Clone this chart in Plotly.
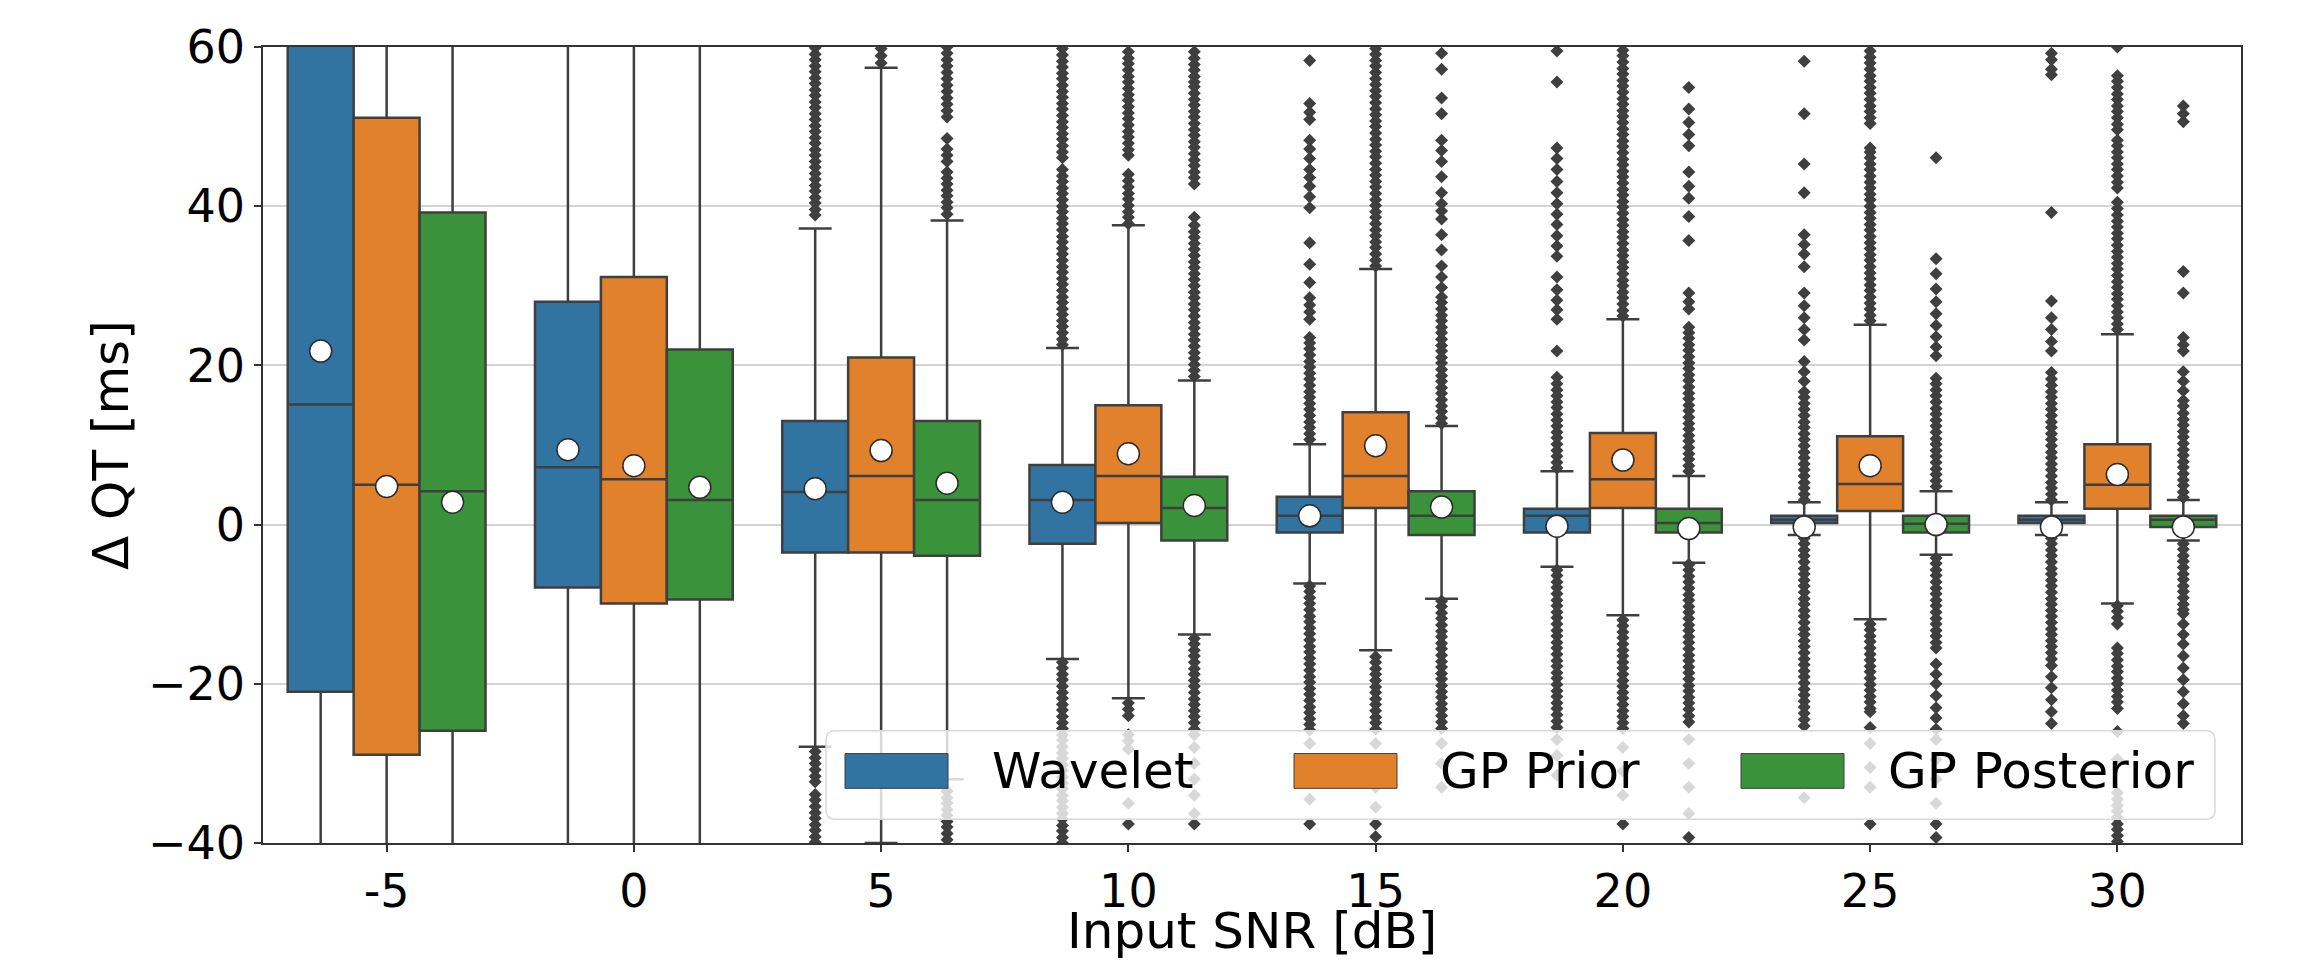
import plotly.graph_objects as go

# ---------------- data ----------------
snr_labels = ["-5", "0", "5", "10", "15", "20", "25", "30"]
methods = ["Wavelet", "GP Prior", "GP Posterior"]
colors = ["#3274A1", "#E1812C", "#3A923A"]

# quartiles / whiskers / means (ms)
wavelet_q1 = [-21.0, -7.9, -3.5, -2.4, -1.0, -1.0, 0.2, 0.2]
wavelet_med = [15.1, 7.2, 4.1, 3.1, 1.1, 1.1, 0.6, 0.6]
wavelet_q3 = [68.0, 28.0, 13.0, 7.5, 3.5, 2.0, 1.1, 1.1]
wavelet_lo = [-95.0, -62.0, -27.9, -16.9, -7.4, -5.3, -1.3, -1.3]
wavelet_hi = [150.0, 82.0, 37.2, 22.2, 10.1, 6.7, 2.8, 2.8]
wavelet_mean = [21.8, 9.4, 4.5, 2.8, 1.1, -0.2, -0.3, -0.3]

prior_q1 = [-28.9, -9.9, -3.5, 0.2, 2.1, 2.1, 1.7, 2.0]
prior_med = [5.0, 5.7, 6.1, 6.1, 6.1, 5.7, 5.1, 5.0]
prior_q3 = [51.1, 31.1, 21.0, 15.0, 14.1, 11.5, 11.1, 10.1]
prior_lo = [-80.0, -72.0, -40.0, -21.8, -15.8, -11.4, -11.9, -9.9]
prior_hi = [120.0, 92.0, 57.4, 37.6, 32.1, 25.8, 25.1, 23.9]
prior_mean = [4.8, 7.4, 9.3, 8.9, 9.9, 8.1, 7.4, 6.3]

post_q1 = [-25.9, -9.4, -3.9, -2.0, -1.3, -1.0, -1.0, -0.3]
post_med = [4.2, 3.1, 3.1, 2.1, 1.1, 0.2, 0.1, 0.6]
post_q3 = [39.2, 22.0, 13.0, 6.0, 4.2, 2.0, 1.1, 1.1]
post_lo = [-75.0, -55.0, -32.0, -13.8, -9.3, -4.8, -3.8, -2.0]
post_hi = [110.0, 68.0, 38.2, 18.1, 12.4, 6.1, 4.2, 3.1]
post_mean = [2.8, 4.7, 5.2, 2.4, 2.2, -0.5, 0.0, -0.3]

# outliers, one list per SNR
wavelet_out = [
    [],
    [],
    [38.9, 39.6, 40.4, 41.1, 41.9, 42.6, 43.4, 44.1, 44.9, 45.6, 46.4, 47.1, 47.9, 48.6, 49.4,
     50.1, 50.9, 51.6, 52.4, 53.1, 53.9, 54.6, 55.4, 56.1, 56.9, 57.6, 58.4, 59.1, 59.9,
     -28.5, -29.3, -30.0, -30.8, -31.6, -32.3, -33.9, -34.6, -35.4, -36.2, -36.9, -37.7,
     -38.4, -39.2, -39.9],
    [22.6, 23.3, 24.1, 24.9, 25.6, 26.4, 27.1, 27.9, 28.6, 29.4, 30.2, 30.9, 31.7, 32.4, 33.2,
     34.0, 34.7, 35.5, 36.2, 37.0, 37.8, 38.5, 39.3, 40.0, 40.8, 41.6, 42.3, 43.1, 43.8, 44.6,
     46.1, 46.8, 47.6, 48.4, 49.1, 49.9, 50.6, 51.4, 52.2, 52.9, 53.7, 54.4, 55.2, 56.0,
     56.7, 57.5, 58.2, 59.0, 59.8,
     -17.3, -18.0, -18.8, -19.5, -20.3, -21.1, -21.8, -22.6, -23.3, -24.1, -24.9, -25.6,
     -26.4, -27.1, -27.9, -28.7, -29.4, -30.2, -30.9, -31.7, -32.5, -33.2, -34.0, -34.7,
     -35.5, -36.3, -37.0, -37.8, -38.5, -39.3, -40.0],
    [10.7, 11.4, 12.2, 12.9, 13.7, 14.5, 15.2, 16.0, 16.7, 17.5, 18.3, 19.0, 19.8, 20.5,
     21.3, 22.1, 22.8, 23.5, 25.8, 26.7, 27.6, 28.5, 30.4, 32.7, 35.4, 39.8, 41.2, 42.5,
     43.6, 44.6, 46.0, 47.2, 48.3, 50.9, 51.8, 52.9, 58.3,
     -7.7, -8.4, -9.2, -9.9, -10.7, -11.5, -12.2, -13.0, -13.7, -14.5, -15.3, -16.0, -16.8,
     -17.5, -18.3, -19.1, -19.8, -20.6, -21.3, -22.1, -22.9, -23.6, -24.4, -25.1, -25.8,
     -27.5, -29.6, -31.8, -34.5, -37.6],
    [7.1, 7.8, 8.6, 9.3, 10.1, 10.9, 11.6, 12.4, 13.1, 13.9, 14.7, 15.4, 16.2, 16.9, 17.7,
     18.5, 21.8, 25.8, 27.0, 28.2, 29.5, 31.1, 33.7, 35.0, 36.3, 37.7, 39.0, 40.3, 41.7,
     43.1, 44.6, 46.0, 47.3, 55.6, 59.5,
     -5.7, -6.4, -7.2, -7.9, -8.7, -9.5, -10.2, -11.0, -11.7, -12.5, -13.3, -14.0, -14.8,
     -15.5, -16.3, -17.1, -17.8, -18.6, -19.3, -20.1, -20.9, -21.6, -22.4, -23.1, -23.9,
     -24.7, -25.5, -27.0, -29.0, -31.5],
    [3.1, 3.8, 4.6, 5.3, 6.1, 6.9, 7.6, 8.4, 9.1, 9.9, 10.7, 11.4, 12.2, 12.9, 13.7, 14.5,
     15.2, 16.0, 16.7, 18.0, 19.2, 20.5, 23.2, 24.5, 26.0, 27.5, 29.1, 32.4, 34.0, 35.2,
     36.4, 41.7, 45.3, 51.6, 58.2,
     -1.7, -2.4, -3.2, -3.9, -4.7, -5.5, -6.2, -7.0, -7.7, -8.5, -9.3, -10.0, -10.8, -11.5,
     -12.3, -13.1, -13.8, -14.6, -15.3, -16.1, -16.9, -17.6, -18.4, -19.1, -19.9, -20.7,
     -21.4, -22.2, -22.9, -23.7, -24.5, -25.3, -34.3],
    [3.1, 3.8, 4.6, 5.3, 6.1, 6.9, 7.6, 8.4, 9.1, 9.9, 10.7, 11.4, 12.2, 12.9, 13.7, 14.5,
     15.2, 16.0, 16.7, 17.5, 18.3, 19.1, 21.8, 23.0, 24.5, 26.0, 28.1, 39.2, 56.5, 57.2,
     58.4, 59.2,
     -1.7, -2.4, -3.2, -3.9, -4.7, -5.5, -6.2, -7.0, -7.7, -8.5, -9.3, -10.0, -10.8, -11.5,
     -12.3, -13.1, -13.8, -14.6, -15.3, -16.1, -16.9, -17.7, -19.1, -20.5, -22.0, -23.5,
     -25.0],
]

prior_out = [
    [],
    [],
    [58.0, 58.9, 59.8],
    [37.8, 38.6, 39.3, 40.1, 40.9, 41.6, 42.4, 43.2, 44.0, 46.4, 47.1, 47.9, 48.7, 49.4,
     50.2, 51.0, 51.7, 52.5, 53.3, 54.0, 54.8, 55.6, 56.3, 57.1, 57.9, 58.6, 59.4,
     -22.4, -23.2, -24.0, -26.4, -27.2, -28.2, -35.0, -37.6],
    [32.5, 33.2, 34.0, 34.8, 35.5, 36.3, 37.0, 37.8, 38.6, 39.3, 40.1, 40.8, 41.6, 42.4,
     43.1, 43.9, 44.6, 45.4, 46.2, 46.9, 47.7, 48.4, 49.2, 50.0, 50.7, 51.5, 52.2, 53.0,
     53.8, 54.5, 55.3, 56.0, 56.8, 57.6, 58.3, 59.1, 59.8,
     -16.6, -17.3, -18.1, -18.8, -19.6, -20.4, -21.1, -21.9, -22.6, -23.4, -24.2, -24.9,
     -25.7, -27.5, -30.0, -33.0, -35.5, -37.6, -39.2],
    [26.2, 26.9, 27.7, 28.5, 29.2, 30.0, 30.7, 31.5, 32.3, 33.0, 33.8, 34.5, 35.3, 36.1,
     36.8, 37.6, 38.3, 39.1, 39.9, 40.6, 41.4, 42.1, 42.9, 43.7, 44.4, 45.2, 45.9, 46.7,
     47.5, 48.2, 49.0, 49.7, 50.5, 51.3, 52.0, 52.8, 53.5, 54.3, 55.1, 55.8, 56.6, 57.3,
     58.1, 58.9, 59.6,
     -12.0, -12.7, -13.5, -14.2, -15.0, -15.8, -16.5, -17.3, -18.0, -18.8, -19.6, -20.3,
     -21.1, -21.8, -22.6, -23.4, -24.1, -24.9, -25.6, -28.0, -31.0, -34.0, -37.6],
    [25.6, 26.3, 27.1, 27.8, 28.6, 29.4, 30.1, 30.9, 31.6, 32.4, 33.2, 33.9, 34.7, 35.4,
     36.2, 37.0, 37.7, 38.5, 39.2, 40.0, 40.8, 41.5, 42.3, 43.0, 43.8, 44.6, 45.3, 46.1,
     46.8, 47.3, 50.4, 51.1, 51.9, 52.6, 53.4, 54.2, 54.9, 55.7, 56.4, 57.2, 58.0, 58.7,
     59.5,
     -12.5, -13.2, -14.0, -14.7, -15.5, -16.3, -17.0, -17.8, -18.5, -19.3, -20.1, -20.8,
     -21.6, -22.3, -23.1, -23.5, -25.5, -27.5, -30.5, -33.0, -37.6],
    [24.5, 25.2, 26.0, 26.7, 27.5, 28.3, 29.0, 29.8, 30.5, 31.3, 32.1, 32.8, 33.6, 34.3,
     35.1, 35.9, 36.6, 37.4, 38.1, 38.9, 39.7, 40.5, 42.3, 43.0, 43.8, 44.6, 45.3, 46.1,
     46.8, 47.6, 48.3, 49.6, 50.3, 51.1, 51.9, 52.6, 53.4, 54.1, 54.9, 55.7, 56.4, 60.0,
     -10.2, -10.9, -11.7, -12.5, -15.5, -16.2, -17.0, -17.8, -18.5, -19.3, -20.0, -20.8,
     -21.6, -22.3, -23.1, -26.0, -29.5, -33.7, -34.5, -35.3, -36.0, -36.8, -37.6, -38.3,
     -39.1, -39.8],
]

post_out = [
    [],
    [],
    [39.0, 39.8, 40.5, 41.3, 42.0, 42.8, 43.5, 44.3, 45.6, 46.4, 47.2, 48.5, 51.2, 52.0,
     52.8, 53.6, 54.4, 55.2, 56.0, 56.8, 57.6, 58.4, 59.2, 60.0,
     -33.5, -34.3, -35.0, -35.8, -36.5, -37.3, -38.0, -38.8, -39.6],
    [18.6, 19.4, 20.1, 20.9, 21.6, 22.4, 23.2, 23.9, 24.7, 25.4, 26.2, 27.0, 27.7, 28.5,
     29.2, 30.0, 30.8, 31.5, 32.3, 33.0, 33.8, 34.6, 35.3, 36.1, 36.8, 37.6, 38.6, 42.8,
     43.6, 44.3, 45.1, 45.8, 46.6, 47.4, 48.1, 48.9, 49.6, 50.4, 51.2, 51.9, 52.7, 53.4,
     54.2, 55.0, 55.6, 56.3, 57.1, 57.8, 58.6, 59.4,
     -14.3, -15.0, -15.8, -16.5, -17.3, -18.1, -18.8, -19.6, -20.3, -21.1, -21.9, -22.6,
     -23.4, -24.1, -24.9, -25.7, -26.4, -28.0, -30.0, -32.0, -34.0, -36.3, -37.6],
    [12.7, 13.4, 14.2, 14.9, 15.7, 16.5, 17.2, 18.0, 18.7, 19.5, 20.3, 21.0, 21.8, 22.5,
     23.3, 24.1, 24.8, 25.6, 26.3, 27.1, 27.9, 28.6, 29.8, 31.1, 32.5, 34.5, 36.4, 38.4,
     39.4, 40.3, 41.7, 43.7, 45.6, 47.0, 48.3, 51.6, 53.6, 57.2, 59.2,
     -9.6, -10.3, -11.1, -11.8, -12.6, -13.4, -14.1, -14.9, -15.6, -16.4, -17.2, -17.9,
     -18.7, -19.4, -20.2, -21.0, -21.7, -22.5, -23.2, -24.0, -24.8, -25.6, -27.5, -30.0,
     -33.0],
    [6.7, 7.4, 8.2, 8.9, 9.7, 10.5, 11.2, 12.0, 12.7, 13.5, 14.3, 15.0, 15.8, 16.5, 17.3,
     18.1, 18.8, 19.6, 20.3, 21.1, 21.9, 22.6, 23.4, 24.1, 24.8, 27.1, 28.0, 29.1, 35.7,
     38.7, 41.0, 42.5, 44.3, 47.6, 49.0, 50.5, 52.2, 54.9,
     -5.0, -5.7, -6.5, -7.2, -8.0, -8.8, -9.5, -10.3, -11.0, -11.8, -12.6, -13.3, -14.1,
     -14.8, -15.6, -16.4, -17.1, -17.9, -18.6, -19.4, -20.2, -20.9, -21.7, -22.4, -23.2,
     -24.0, -24.8, -27.0, -30.0, -33.0, -36.3, -39.3],
    [4.8, 5.5, 6.3, 7.0, 7.8, 8.6, 9.3, 10.1, 10.8, 11.6, 12.4, 13.1, 13.9, 14.6, 15.4,
     16.2, 16.9, 17.7, 18.4, 21.2, 22.3, 23.6, 25.0, 26.5, 28.0, 29.6, 31.5, 33.4, 46.1,
     -4.2, -4.9, -5.7, -6.4, -7.2, -8.0, -8.7, -9.5, -10.2, -11.0, -11.8, -12.5, -13.3,
     -14.0, -14.8, -15.5, -17.5, -18.8, -20.0, -21.5, -23.0, -24.3, -25.7, -27.0, -29.5,
     -32.0, -35.0, -37.6, -39.3],
    [3.4, 4.1, 4.9, 5.6, 6.4, 7.2, 7.9, 8.7, 9.4, 10.2, 11.0, 11.7, 12.5, 13.2, 14.0, 14.9,
     15.6, 16.8, 18.0, 19.2, 21.8, 22.6, 23.5, 29.1, 31.8, 50.6, 51.6, 52.6,
     -2.4, -3.1, -3.9, -4.6, -5.4, -6.2, -6.9, -7.7, -8.4, -9.2, -10.0, -10.7, -11.2,
     -12.5, -13.8, -15.0, -16.5, -18.0, -19.5, -21.0, -22.5, -24.0, -25.0],
]

# ---------------- figure ----------------
group_offsets = [-0.8 / 3, 0.0, 0.8 / 3]
box_width = 0.8 / 3
edge = "#3f3f3f"

stats = [
    (wavelet_q1, wavelet_med, wavelet_q3, wavelet_lo, wavelet_hi, wavelet_mean, wavelet_out),
    (prior_q1, prior_med, prior_q3, prior_lo, prior_hi, prior_mean, prior_out),
    (post_q1, post_med, post_q3, post_lo, post_hi, post_mean, post_out),
]

fig = go.Figure()
for k, (q1, med, q3, lo, hi, mean, outs) in enumerate(stats):
    xs = [i + group_offsets[k] for i in range(len(snr_labels))]
    fig.add_trace(go.Box(
        x=xs, q1=q1, median=med, q3=q3, lowerfence=lo, upperfence=hi,
        width=box_width, whiskerwidth=0.5, boxpoints=False,
        fillcolor=colors[k], line=dict(color=edge, width=2.5),
        name=methods[k], showlegend=False,
    ))
for k, (q1, med, q3, lo, hi, mean, outs) in enumerate(stats):
    ox, oy = [], []
    for i, vals in enumerate(outs):
        ox += [i + group_offsets[k]] * len(vals)
        oy += vals
    fig.add_trace(go.Scatter(
        x=ox, y=oy, mode="markers", showlegend=False,
        marker=dict(symbol="diamond", size=10, color=edge, line=dict(width=0)),
    ))
for k, (q1, med, q3, lo, hi, mean, outs) in enumerate(stats):
    xs = [i + group_offsets[k] for i in range(len(snr_labels))]
    fig.add_trace(go.Scatter(
        x=xs, y=mean, mode="markers", showlegend=False,
        marker=dict(symbol="circle", size=22, color="white", line=dict(color="#2b2b2b", width=1.5)),
    ))

# ---- page geometry (the page body adds an 8 px offset) ----
OFF = 8
FW, FH = 2313 - OFF, 965 - OFF
L, R, T, B = 263, 2241, 42, 843          # target plot box in window pixels
W, H = R - L, B - T
def px(x):
    return (x - L) / W
def py(y):
    return (B - y) / H

# ---- legend drawn like matplotlib's (frame + patches + labels) ----
lx0, lx1, ly0, ly1 = 826, 2215, 730, 819
r = 9
path = (f"M {px(lx0 + r)},{py(ly0)} L {px(lx1 - r)},{py(ly0)} "
        f"Q {px(lx1)},{py(ly0)} {px(lx1)},{py(ly0 + r)} L {px(lx1)},{py(ly1 - r)} "
        f"Q {px(lx1)},{py(ly1)} {px(lx1 - r)},{py(ly1)} L {px(lx0 + r)},{py(ly1)} "
        f"Q {px(lx0)},{py(ly1)} {px(lx0)},{py(ly1 - r)} L {px(lx0)},{py(ly0 + r)} "
        f"Q {px(lx0)},{py(ly0)} {px(lx0 + r)},{py(ly0)} Z")
shapes = [dict(type="path", path=path, xref="paper", yref="paper", layer="above",
               fillcolor="rgba(255,255,255,0.8)", line=dict(color="#d9d9d9", width=1.5))]
patch_x = [845, 1294, 1741]
text_x = [990, 1438, 1886]
annotations = []
for k in range(3):
    shapes.append(dict(type="rect", xref="paper", yref="paper", layer="above",
                       x0=px(patch_x[k]), x1=px(patch_x[k] + 103), y0=py(788), y1=py(753),
                       fillcolor=colors[k], line=dict(color=edge, width=1)))
    annotations.append(dict(x=px(text_x[k]), y=py(771), xref="paper", yref="paper",
                            text=methods[k], showarrow=False, xanchor="left", yanchor="middle",
                            font=dict(size=50, color="black", family="DejaVu Sans")))
# axis titles placed like the reference
annotations.append(dict(x=0.5, y=py(932), xref="paper", yref="paper", text="Input SNR [dB]",
                        showarrow=False, xanchor="center", yanchor="middle",
                        font=dict(size=50, color="black", family="DejaVu Sans")))
annotations.append(dict(x=px(111), y=0.5, xref="paper", yref="paper", text="\u0394 QT [ms]",
                        showarrow=False, xanchor="center", yanchor="middle", textangle=-90,
                        font=dict(size=50, color="black", family="DejaVu Sans")))

fig.update_layout(
    width=FW, height=FH,
    margin=dict(l=L - OFF, r=OFF + FW - R, t=T - OFF, b=OFF + FH - B),
    paper_bgcolor="white", plot_bgcolor="white",
    font=dict(family="DejaVu Sans", size=46, color="black"),
    boxmode="overlay",
    shapes=shapes, annotations=annotations,
    showlegend=False,
)
fig.update_xaxes(
    range=[-0.5, 7.5], tickmode="array", tickvals=list(range(len(snr_labels))),
    ticktext=snr_labels, showgrid=False, zeroline=False,
    showline=True, mirror=True, linecolor="#333333", linewidth=1.5,
    ticks="outside", ticklen=7, tickwidth=1.5, tickcolor="#333333",
)
fig.update_yaxes(
    range=[-40, 60], tickvals=[-40, -20, 0, 20, 40, 60],
    ticktext=["\u221240", "\u221220", "0", "20", "40", "60"],
    showgrid=True, gridcolor="#d4d4d4", gridwidth=1.5, zeroline=False,
    showline=True, mirror=True, linecolor="#333333", linewidth=1.5,
    ticks="outside", ticklen=7, tickwidth=1.5, tickcolor="#333333",
)

fig.write_html("out.html")
